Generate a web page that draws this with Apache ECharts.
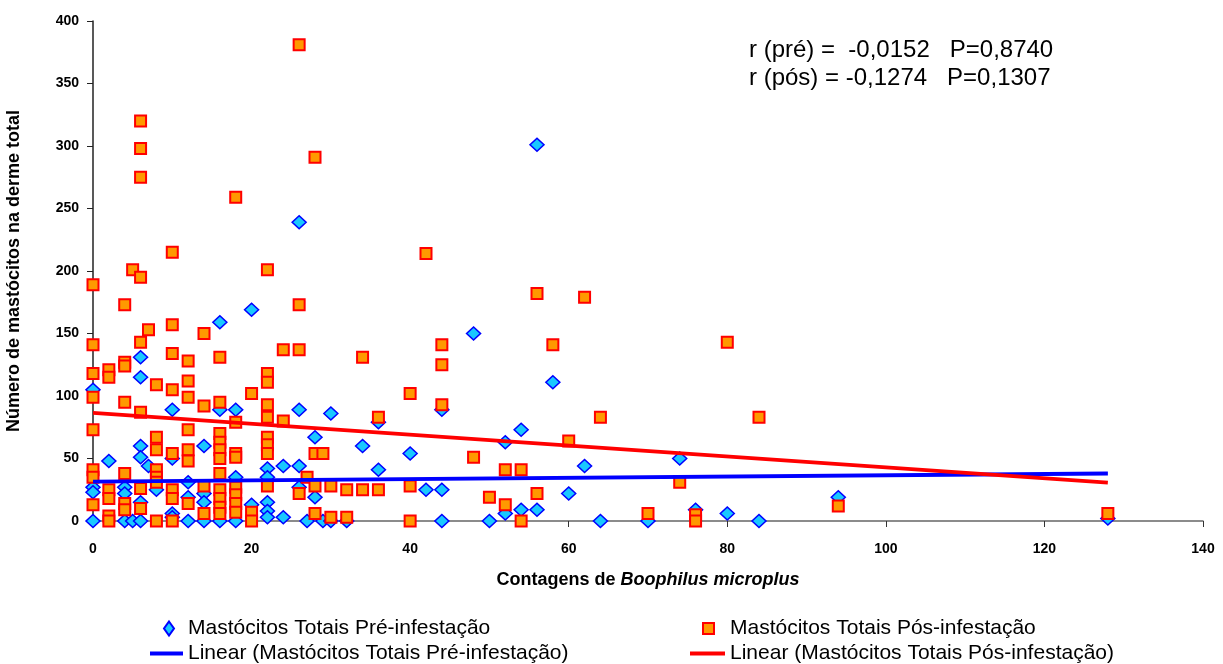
<!DOCTYPE html>
<html>
<head>
<meta charset="utf-8">
<script src="https://cdn.jsdelivr.net/npm/echarts@6/dist/echarts.min.js"></script>
<style>
html,body{margin:0;padding:0;background:#fff;}
#chart{width:1223px;height:664px;}
</style>
</head>
<body>
<div id="chart"></div>
<script>
// ---- Data ----
const seriesNames = [
  'Mastócitos Totais Pré-infestação',
  'Mastócitos Totais Pós-infestação',
  'Linear (Mastócitos Totais Pré-infestação)',
  'Linear (Mastócitos Totais Pós-infestação)'
];

// [contagem de B. microplus, número de mastócitos]
const preInfestacao = [
  [0,105],[0,27],[0,23],[0,0],
  [2,48],
  [4,27],[4,22],[4,0],[5,0],
  [6,131],[6,115],[6,60],[6,51],[6,15],[6,0],
  [7,44],[8,25],
  [10,89],[10,50],[10,6],[10,3],
  [12,31],[12,19],[12,0],
  [14,60],[14,22],[14,15],[14,0],
  [16,159],[16,89],[16,0],
  [18,89],[18,35],[18,0],
  [20,169],[20,13],
  [22,42],[22,35],[22,15],[22,8],[22,3],
  [24,44],[24,3],
  [26,239],[26,89],[26,44],[26,27],
  [27,0],[28,67],[28,19],[29,0],
  [30,86],[30,0],[32,0],[34,60],
  [36,79],[36,41],[40,54],[42,25],
  [44,89],[44,25],[44,0],
  [48,150],[50,0],[52,63],[52,6],
  [54,73],[54,9],[56,301],[56,9],
  [58,111],[60,22],[62,44],[64,0],
  [70,0],[74,50],[76,9],[80,6],[84,0],
  [94,19],[128,2]
];

const posInfestacao = [
  [0,189],[0,141],[0,118],[0,99],[0,73],[0,41],[0,35],[0,13],
  [2,121],[2,115],[2,25],[2,18],[2,4],[2,0],
  [4,173],[4,127],[4,124],[4,95],[4,38],[4,14],[4,9],
  [5,201],
  [6,320],[6,298],[6,275],[6,195],[6,143],[6,87],[6,26],[6,10],
  [7,153],
  [8,109],[8,67],[8,57],[8,41],[8,35],[8,31],[8,0],
  [10,215],[10,157],[10,134],[10,105],[10,54],[10,25],[10,18],[10,0],
  [12,128],[12,112],[12,99],[12,73],[12,57],[12,48],[12,14],
  [14,150],[14,92],[14,28],[14,6],
  [16,131],[16,95],[16,70],[16,63],[16,57],[16,50],[16,38],[16,25],[16,18],[16,11],[16,6],
  [18,259],[18,79],[18,54],[18,51],[18,27],[18,21],[18,14],[18,7],
  [20,102],[20,7],[20,0],
  [22,201],[22,118],[22,111],[22,93],[22,83],[22,67],[22,61],[22,54],[22,28],
  [24,137],[24,80],
  [26,381],[26,173],[26,137],[26,22],
  [27,35],
  [28,291],[28,54],[28,28],[28,6],
  [29,54],
  [30,28],[30,3],[32,25],[32,3],
  [34,131],[34,25],[36,83],[36,25],
  [40,102],[40,28],[40,0],
  [42,214],
  [44,141],[44,125],[44,93],
  [48,51],[50,19],[52,41],[52,13],[54,41],[54,0],
  [56,182],[56,22],[58,141],[60,64],[62,179],[64,83],
  [70,6],[74,31],[76,5],[76,0],[80,143],[84,83],
  [94,12],[128,6]
];

// Trend line end points as drawn in the reference
const preTrend = [[0,31.5],[128,38]];
const posTrend = [[0,86.5],[128,30.7]];

const xTicks = {min:0, max:140, interval:20};
const yTicks = {min:0, max:400, interval:50};

const statsText = ['r (pré) =  -0,0152   P=0,8740', 'r (pós) = -0,1274   P=0,1307'];

// ---- Chart ----
const FONT = '"Liberation Sans", Arial, sans-serif';
const chart = echarts.init(document.getElementById('chart'), null, {renderer:'canvas'});

const legendText = {fontFamily:FONT, fontSize:21, color:'#000'};
const legendBase = {orient:'horizontal', padding:0, itemGap:0};

chart.setOption({
  animation:false,
  backgroundColor:'#fff',
  grid:{left:93, top:21, width:1110, height:500, containLabel:false, outerBoundsMode:'none'},
  xAxis:{
    type:'value', min:xTicks.min, max:xTicks.max, interval:xTicks.interval,
    name:'{a|Contagens de }{b|Boophilus microplus}',
    nameLocation:'middle', nameGap:50,
    nameTextStyle:{rich:{
      a:{fontFamily:FONT, fontSize:18, fontWeight:'bold', color:'#000'},
      b:{fontFamily:FONT, fontSize:18, fontWeight:'bold', fontStyle:'italic', color:'#000'}
    }},
    axisLine:{lineStyle:{color:'#666', width:1.5}},
    axisTick:{show:true, inside:false, length:6, lineStyle:{color:'#333'}},
    axisLabel:{fontFamily:FONT, fontSize:14, fontWeight:'bold', color:'#000', margin:21},
    splitLine:{show:false}
  },
  yAxis:{
    type:'value', min:yTicks.min, max:yTicks.max, interval:yTicks.interval,
    name:'Número de mastócitos na derme total',
    nameLocation:'middle', nameGap:70, nameRotate:90,
    nameTextStyle:{fontFamily:FONT, fontSize:18, fontWeight:'bold', color:'#000'},
    axisLine:{show:true, lineStyle:{color:'#222', width:1.5}},
    axisTick:{show:true, inside:false, length:6, lineStyle:{color:'#222'}},
    axisLabel:{fontFamily:FONT, fontSize:14, fontWeight:'bold', color:'#000', margin:14},
    splitLine:{show:false}
  },
  legend:[
    Object.assign({}, legendBase, {data:[{name:seriesNames[0], icon:'diamond'}], left:163, top:618, itemWidth:10, itemHeight:14,
      textStyle:Object.assign({padding:[0,0,0,9]}, legendText)}),
    Object.assign({}, legendBase, {data:[{name:seriesNames[1], icon:'rect'}], left:702, top:618, itemWidth:11, itemHeight:11,
      textStyle:Object.assign({padding:[0,0,0,11]}, legendText)}),
    Object.assign({}, legendBase, {data:[{name:seriesNames[2], icon:'rect', itemStyle:{color:'#0000FF', borderWidth:0}}], left:150, top:643, itemWidth:33, itemHeight:4,
      textStyle:legendText}),
    Object.assign({}, legendBase, {data:[{name:seriesNames[3], icon:'rect', itemStyle:{color:'#FF0000', borderWidth:0}}], left:690, top:643, itemWidth:35, itemHeight:4,
      textStyle:legendText})
  ],
  graphic:[
    {type:'text', left:749, top:36, z:100,
     style:{text:statsText.join('\n'), fontFamily:FONT, fontSize:24, lineHeight:28, fill:'#000'}}
  ],
  series:[
    {
      name:seriesNames[0], type:'scatter', data:preInfestacao,
      symbol:'diamond', symbolSize:[14,13], z:2,
      itemStyle:{color:'#19C8FF', borderColor:'#0000FF', borderWidth:1.5, opacity:1}
    },
    {
      name:seriesNames[1], type:'scatter', data:posInfestacao,
      symbol:'rect', symbolSize:11, z:3,
      itemStyle:{color:'#FF9900', borderColor:'#FF0000', borderWidth:2, opacity:1}
    },
    {
      name:seriesNames[2], type:'line', data:preTrend, symbol:'none', z:4,
      lineStyle:{color:'#0000FF', width:4}, itemStyle:{color:'#0000FF'}
    },
    {
      name:seriesNames[3], type:'line', data:posTrend, symbol:'none', z:5,
      lineStyle:{color:'#FF0000', width:4}, itemStyle:{color:'#FF0000'}
    }
  ]
});
</script>
</body>
</html>
